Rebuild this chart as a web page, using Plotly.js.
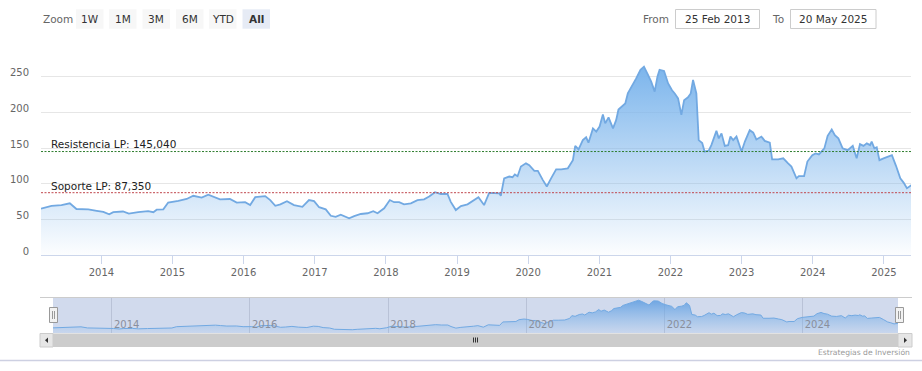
<!DOCTYPE html>
<html>
<head>
<meta charset="utf-8">
<script src="https://cdn.plot.ly/plotly-3.0.1.min.js"></script>
<style>
html,body{margin:0;padding:0;background:#fff;}
#chart{width:922px;height:371px;}
</style>
</head>
<body>
<div id="chart"></div>
<script>
// ---- data ----
const dates = [
"2013-02-25","2013-04-20","2013-06-10","2013-07-23","2013-08-26","2013-10-26","2013-12-08",
"2014-01-11","2014-02-10","2014-03-03","2014-04-22","2014-05-22","2014-07-09","2014-08-29","2014-09-25","2014-10-12","2014-11-15","2014-12-10",
"2015-01-31","2015-03-15","2015-04-18","2015-05-31","2015-07-04","2015-07-30","2015-09-02","2015-10-23","2015-11-27",
"2016-01-09","2016-02-04","2016-03-01","2016-04-21","2016-05-17","2016-06-12","2016-07-08","2016-08-11","2016-09-16","2016-10-29","2016-12-02","2016-12-28",
"2017-01-23","2017-02-26","2017-03-24","2017-04-18","2017-05-14","2017-05-31","2017-06-26","2017-07-22","2017-08-25","2017-09-29","2017-10-28","2017-11-19","2017-12-23",
"2018-01-21","2018-02-12","2018-03-10","2018-04-04","2018-05-09","2018-06-12","2018-07-16","2018-08-11","2018-09-10","2018-10-10","2018-11-13","2018-11-30","2018-12-26",
"2019-01-21","2019-02-24","2019-03-30","2019-04-21","2019-05-20","2019-06-15","2019-08-06","2019-08-14","2019-08-31","2019-09-26","2019-10-13","2019-10-25","2019-11-08","2019-11-25","2019-12-21",
"2020-01-07","2020-02-02","2020-02-20","2020-03-17","2020-04-06","2020-04-28","2020-05-24","2020-06-19","2020-07-23","2020-08-18","2020-08-30","2020-09-16","2020-10-08","2020-10-25","2020-11-06","2020-11-29","2020-12-16",
"2021-01-02","2021-01-19","2021-01-31","2021-02-17","2021-03-12","2021-03-28","2021-04-09","2021-04-27","2021-05-14","2021-05-27","2021-06-17","2021-07-09","2021-07-31","2021-08-18","2021-09-04","2021-09-24","2021-10-12","2021-10-26","2021-11-06","2021-11-29","2021-12-20",
"2022-01-09","2022-01-23","2022-02-09","2022-02-26","2022-03-12","2022-04-01","2022-04-15","2022-04-27","2022-05-14","2022-05-26","2022-06-13","2022-06-25","2022-07-17","2022-07-30","2022-08-25","2022-09-06","2022-09-20","2022-10-07","2022-10-24","2022-11-05","2022-11-19","2022-12-06","2022-12-17",
"2023-01-01","2023-01-18","2023-02-12","2023-03-02","2023-03-18","2023-04-13","2023-04-30","2023-05-26","2023-06-07","2023-07-08","2023-08-03","2023-08-28","2023-09-14","2023-10-10","2023-10-22","2023-11-18","2023-12-05","2023-12-30",
"2024-01-16","2024-02-02","2024-03-01","2024-03-18","2024-04-08","2024-04-24","2024-05-12","2024-06-03","2024-06-29","2024-07-25","2024-08-14","2024-08-31","2024-09-18","2024-10-05","2024-10-22","2024-10-30","2024-11-13","2024-11-25","2024-12-09","2024-12-30",
"2025-01-25","2025-02-11","2025-03-04","2025-03-26","2025-04-12","2025-04-29","2025-05-15","2025-05-20"
];
const prices = [
65,69,70,72.5,64.5,64,62,
60.5,57,60,61,58,60,61.5,60,63.5,64,73.5,
76,78.5,83,80.5,84.5,81.5,78,78.5,73.5,
74,70,81,82.5,77,69,71,75.5,70,67.5,77,75.5,
67,64,55,53.5,56.5,54.5,51.5,54.5,57.5,58.5,61.5,58.5,65.5,
77,74,74,71,72.5,77,78,82,88,85.5,85.5,74.5,63,
68.5,71,77,81,70,87,86.5,83,107.5,110,109,113,110.5,124,128.5,
126,118,118,105,96,107.5,120,120,121.5,133,153,148,161,165,157.5,177.5,173,
180,197,184.5,193,177.5,189,204,208,212.5,226.5,236,247.5,259.5,264,254.5,243,229,250,259.5,258,240.5,
231,226.5,219.5,196.5,217,221,226.5,245.5,226.5,161,157,145,146.5,154,174,163.5,170.5,153,154,166,161,166,157.5,
145,159,175,171.5,162,166,160,157.5,134,134,135.5,128.5,124,107.5,110.5,110.5,131,140,
142.5,141,149.5,167,176,168,163.5,149.5,147,153,135.5,155.5,153,156.5,154,159,149.5,151,133,135.5,
138,140,125,107.5,101.5,93.5,96.5,98
];
const startDate = "2013-02-25";
const endDate = "2025-05-20";
const resistance = 145.04;
const support = 87.35;
const resistanceLabel = "Resistencia LP: 145,040";
const supportLabel = "Soporte LP: 87,350";
const yTickVals = [0,50,100,150,200,250,300];
const yTickText = ["0","50","100","150","200","250",""];
const zoomButtons = ["1W","1M","3M","6M","YTD","All"];
const fromText = "25 Feb 2013";
const toText = "20 May 2025";
const credits = "Estrategias de Inversión";

// ---- layout helpers (pixel -> paper) ----
const W = 922, H = 371;
const X = p => p / W;
const Y = p => 1 - p / H;
const FONT = "DejaVu Sans";
const lineCol = "#72a9e2";

function rect(x0, y0, x1, y1, fill, line, lw, layer) {
  return {type:"rect", xref:"paper", yref:"paper", x0:X(x0), x1:X(x1), y0:Y(y1), y1:Y(y0),
    fillcolor:fill, line:{color:line||fill, width:lw||0}, layer:layer||"above"};
}
function pline(x0, y0, x1, y1, col, lw) {
  return {type:"line", xref:"paper", yref:"paper", x0:X(x0), x1:X(x1), y0:Y(y0), y1:Y(y1),
    line:{color:col, width:lw||1}, layer:"above"};
}
function ppath(pts, fill) {
  const d = pts.map((p,i)=>(i?"L":"M")+X(p[0])+","+Y(p[1])).join(" ")+" Z";
  return {type:"path", xref:"paper", yref:"paper", path:d, fillcolor:fill, line:{color:fill,width:0}, layer:"above"};
}
function txt(x, y, t, opts) {
  return Object.assign({xref:"paper", yref:"paper", x:X(x), y:Y(y), text:t, showarrow:false,
    xanchor:"left", yanchor:"middle", font:{family:FONT, size:10.5, color:"#333"}}, opts||{});
}

const traces = [
  {x:dates, y:prices, type:"scatter", mode:"lines", xaxis:"x", yaxis:"y",
   line:{color:lineCol, width:1.8}, fill:"tozeroy",
   fillgradient:{type:"vertical", colorscale:[[0,"rgba(124,181,236,0.02)"],[1,"rgba(124,181,236,1)"]]},
   hoverinfo:"skip"},
  {x:dates, y:prices, type:"scatter", mode:"lines", xaxis:"x2", yaxis:"y2",
   line:{color:lineCol, width:1}, fill:"tozeroy",
   fillgradient:{type:"vertical", colorscale:[[0,"rgba(124,181,236,0.0)"],[1,"rgba(100,160,225,0.9)"]]},
   hoverinfo:"skip"}
];

const shapes = [];
// navigator mask (below traces)
shapes.push(rect(53, 297.7, 898, 333, "rgba(102,133,194,0.3)", null, 0, "below"));
// plot lines
shapes.push({type:"line", xref:"paper", yref:"y", x0:X(41), x1:X(911), y0:resistance, y1:resistance,
  line:{color:"#2f7d2f", width:1, dash:"2px,1.5px"}, layer:"above"});
shapes.push({type:"line", xref:"paper", yref:"y", x0:X(41), x1:X(911), y0:support, y1:support,
  line:{color:"#c0474d", width:1, dash:"2px,1.5px"}, layer:"above"});
// navigator outline top
shapes.push(pline(40, 297.5, 912, 297.5, "#cccccc", 1));
// handles
[[49.5,57.5],[895.5,903.5]].forEach(([a,b])=>{
  shapes.push(rect(a, 307.5, b, 322.5, "#f2f2f2", "#999999", 1));
  shapes.push(pline(a+3, 311, a+3, 319, "#999999", 1));
  shapes.push(pline(a+5, 311, a+5, 319, "#999999", 1));
});
// scrollbar
shapes.push(rect(40, 333.5, 912, 347, "#f2f2f2"));
shapes.push(rect(53, 333.5, 898, 347, "#cccccc"));
shapes.push(rect(40, 333.5, 53, 347, "#e6e6e6", "#cccccc", 1));
shapes.push(rect(898, 333.5, 912, 347, "#e6e6e6", "#cccccc", 1));
shapes.push(ppath([[48,337.5],[45,340.2],[48,343]], "#333333"));
shapes.push(ppath([[904,337.5],[907,340.2],[904,343]], "#333333"));
[473.5,475.5,477.5].forEach(x=>shapes.push(pline(x, 337.5, x, 342.5, "#333333", 1)));
// bottom separator
shapes.push(pline(0, 360.5, 922, 360.5, "#cdd0e2", 1.5));
// range buttons
const btnX = [[76,103.5],[109,136.5],[142.5,170],[176,203.5],[209,236.5],[242.5,270]];
btnX.forEach(([a,b],i)=>{
  shapes.push(rect(a, 9.3, b, 28.7, i===5 ? "#e6ebf5" : "#f7f7f7"));
});
// from/to boxes
shapes.push(rect(675.5, 9.5, 759.5, 28.5, "#ffffff", "#cccccc", 1));
shapes.push(rect(790.5, 9.5, 876, 28.5, "#ffffff", "#cccccc", 1));

const annotations = [];
annotations.push(txt(41, 18.5, "Zoom", {font:{family:FONT, size:10.5, color:"#666"}}));
zoomButtons.forEach((t,i)=>{
  const [a,b] = btnX[i];
  annotations.push(txt((a+b)/2, 18.5, i===5 ? "<b>"+t+"</b>" : t, {xanchor:"center"}));
});
annotations.push(txt(641, 18.5, "From", {font:{family:FONT, size:10.5, color:"#666"}}));
annotations.push(txt(769.5, 18.5, "To", {font:{family:FONT, size:10.5, color:"#666"}}));
annotations.push(txt(717.5, 18.5, fromText, {xanchor:"center"}));
annotations.push(txt(833, 18.5, toText, {xanchor:"center"}));
annotations.push(txt(48.5, 143.5, resistanceLabel, {font:{family:FONT, size:10.5, color:"#222"}}));
annotations.push(txt(48.5, 185.5, supportLabel, {font:{family:FONT, size:10.5, color:"#222"}}));
annotations.push(txt(912, 352.5, credits, {xanchor:"right", font:{family:FONT, size:7.6, color:"#999"}}));

const layout = {
  width:W, height:H, margin:{l:0,r:0,t:0,b:0},
  paper_bgcolor:"#ffffff", plot_bgcolor:"rgba(0,0,0,0)",
  showlegend:false, dragmode:false,
  font:{family:FONT, size:10, color:"#666"},
  xaxis:{domain:[X(41),X(911)], anchor:"y", type:"date", range:[startDate,endDate],
    tick0:"2014-01-01", dtick:"M12", tickformat:"%Y",
    showgrid:false, showline:true, linecolor:"#ccd6eb", linewidth:1,
    ticks:"outside", ticklen:8, tickcolor:"#ccd6eb", tickwidth:1,
    tickfont:{family:FONT, size:10, color:"#666"}, fixedrange:true, zeroline:false},
  yaxis:{domain:[Y(255),Y(41)], anchor:"x", range:[0,300],
    tickmode:"array", tickvals:yTickVals, ticktext:yTickText,
    showgrid:true, gridcolor:"#e6e6e6", gridwidth:1, zeroline:false, showline:false,
    ticks:"", ticklabelstandoff:11, ticklabelshift:-4,
    tickfont:{family:FONT, size:10, color:"#666"}, fixedrange:true},
  xaxis2:{domain:[X(53),X(898)], anchor:"y2", type:"date", range:[startDate,endDate],
    tick0:"2014-01-01", dtick:"M24", tickformat:"%Y",
    showgrid:true, gridcolor:"rgba(140,150,175,0.35)", gridwidth:1,
    showline:false, zeroline:false, ticks:"",
    ticklabelposition:"inside", ticklabelshift:15,
    tickfont:{family:FONT, size:10, color:"#8a8f9c"}, fixedrange:true},
  yaxis2:{domain:[Y(333),Y(297.7)], anchor:"x2", range:[28,282], visible:false, fixedrange:true},
  shapes:shapes, annotations:annotations
};

Plotly.newPlot("chart", traces, layout, {displayModeBar:false, staticPlot:true});
</script>
</body>
</html>
